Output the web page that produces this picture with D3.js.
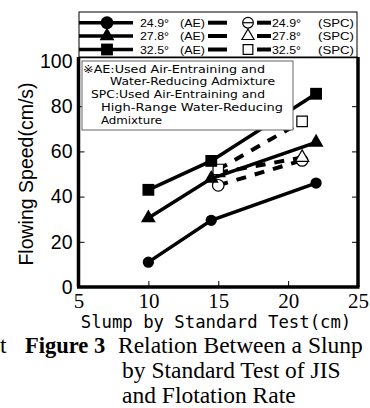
<!DOCTYPE html>
<html><head><meta charset="utf-8">
<script src="https://cdn.jsdelivr.net/npm/d3@7"></script>
<style>body{margin:0;background:#fff}svg{display:block}</style>
</head><body>
<svg id="c" width="370" height="408"></svg>
<script>
// ---- data ----
const xTicks = [5, 10, 15, 20, 25];
const yTicks = [0, 20, 40, 60, 80, 100];
const seriesNames = ["24.9° (AE)", "27.8° (AE)", "32.5° (AE)", "24.9° (SPC)", "27.8° (SPC)", "32.5° (SPC)"];
const ae249x = [10, 14.5, 22];   const ae249y = [11, 29.5, 46];
const ae278x = [10, 14.5, 22];   const ae278y = [30.5, 48, 64];
const ae325x = [10, 14.5, 22];   const ae325y = [43, 55.8, 85.5];
const spc249x = [15, 21];        const spc249y = [45, 56];
const spc278x = [15, 21];        const spc278y = [50.5, 57.3];
const spc325x = [15, 21];        const spc325y = [52, 73.3];
const noteLines = ["※AE:Used Air-Entraining and", "Water-Reducing Admixture", "SPC:Used Air-Entraining and", "High-Range Water-Reducing", "Admixture"];
const captionLines = ["Relation Between a Slunp", "by  Standard Test of JIS", "and Flotation Rate"];

const svg = d3.select("#c");
const x = d3.scaleLinear().domain([5, 25]).range([78.5, 358]);
const y = d3.scaleLinear().domain([0, 100]).range([287, 61]);
const sans = "'Liberation Sans', Arial, sans-serif";
const mono = "'DejaVu Sans Mono', monospace";
const pgoth = "'DejaVu Sans', sans-serif";
const serif = "'Liberation Serif', 'Times New Roman', serif";

// frame top line
svg.append("line").attr("x1", x(5)).attr("x2", x(25)).attr("y1", 57.5).attr("y2", 57.5)
  .attr("stroke", "#000").attr("stroke-width", 1.5);

// axes with inward ticks
const yl = svg.append("g").attr("transform", `translate(${x(5)},0)`)
  .call(d3.axisLeft(y).tickValues(yTicks).tickSize(-6).tickPadding(6).tickFormat(d3.format("d")));
const yr = svg.append("g").attr("transform", `translate(${x(25)},0)`)
  .call(d3.axisRight(y).tickValues(yTicks.slice(1, -1)).tickSize(-6).tickFormat(""));
const xb = svg.append("g").attr("transform", `translate(0,${y(0)})`)
  .call(d3.axisBottom(x).tickValues(xTicks).tickSize(-6).tickPadding(6).tickFormat(d3.format("d")));
[yl, yr, xb].forEach(g => {
  g.select(".domain").attr("stroke", "#000").attr("stroke-width", 3.5);
  g.selectAll(".tick line").attr("stroke", "#000").attr("stroke-width", 1);
});
yl.select(".domain").attr("d", `M0,${y(0)}V57`);
yr.select(".domain").attr("d", `M0,${y(0)}V57`);
xb.select(".domain").attr("d", `M${x(5) - 1.5},0H${x(25) + 1.5}`);
yl.selectAll(".tick line").filter(d => d === 0 || d === 100).remove();
xb.selectAll(".tick line").filter(d => d === 5 || d === 25).remove();
yl.selectAll("text").attr("font-family", sans).attr("font-size", 19.5).attr("fill", "#000");
xb.selectAll("text").attr("font-family", serif).attr("font-size", 21).attr("fill", "#000");

// axis titles
svg.append("text").attr("x", 216).attr("y", 328).attr("text-anchor", "middle")
  .attr("font-family", mono).attr("font-size", 17.3).text("Slump by Standard Test(cm)");
svg.append("text").attr("transform", "translate(33,174) rotate(-90)").attr("text-anchor", "middle")
  .attr("font-family", sans).attr("font-size", 19.5).text("Flowing Speed(cm/s)");

// marker drawing
const symType = {circle: d3.symbolCircle, triangle: d3.symbolTriangle, square: d3.symbolSquare};
function marker(g, cx, cy, type, filled, size) {
  g.append("path").attr("transform", `translate(${cx},${cy})`)
    .attr("d", d3.symbol().type(symType[type]).size(size)())
    .attr("fill", filled ? "#000" : "#fff").attr("stroke", "#000").attr("stroke-width", filled ? 0 : 1.2);
}
const line = d3.line().x(d => x(d[0])).y(d => y(d[1]));
const ae = [[ae249x, ae249y, "circle"], [ae278x, ae278y, "triangle"], [ae325x, ae325y, "square"]];
const spc = [[spc249x, spc249y, "circle"], [spc278x, spc278y, "triangle"], [spc325x, spc325y, "square"]];
const sizes = {circle: 100, triangle: 95, square: 140};
const osizes = {circle: 105, triangle: 75, square: 110};

const plot = svg.append("g");
spc.forEach(([xs, ys]) => {
  plot.append("path").datum(xs.map((v, i) => [v, ys[i]])).attr("d", line)
    .attr("fill", "none").attr("stroke", "#000").attr("stroke-width", 4).attr("stroke-dasharray", "10,9");
});
spc.forEach(([xs, ys, t]) => xs.forEach((v, i) => marker(plot, x(v), y(ys[i]), t, false, osizes[t])));
ae.forEach(([xs, ys]) => {
  plot.append("path").datum(xs.map((v, i) => [v, ys[i]])).attr("d", line)
    .attr("fill", "none").attr("stroke", "#000").attr("stroke-width", 3.5);
});
ae.forEach(([xs, ys, t]) => xs.forEach((v, i) => marker(plot, x(v), y(ys[i]), t, true, sizes[t])));

// note box
const note = svg.append("g");
note.append("rect").attr("x", 82).attr("y", 61).attr("width", 211).attr("height", 69)
  .attr("fill", "#fff").attr("stroke", "#666").attr("stroke-width", 1);
const indents = [83, 110, 91, 101, 101];
const widths = [182, 165, 174, 182, 61];
noteLines.forEach((s, i) => note.append("text").attr("x", indents[i]).attr("y", 72.5 + i * 12.75)
  .attr("font-family", pgoth).attr("font-size", 10.9)
  .attr("textLength", widths[i]).attr("lengthAdjust", "spacingAndGlyphs").text(s));

// legend box
const lg = svg.append("g");
lg.append("rect").attr("x", 79).attr("y", 12).attr("width", 278).attr("height", 45)
  .attr("fill", "#fff").attr("stroke", "#000").attr("stroke-width", 1);
const types = ["circle", "triangle", "square"];
const rowsY = [22.7, 36, 49.5];
const lfs = 11.6;
types.forEach((t, i) => {
  const ry = rowsY[i];
  lg.append("line").attr("x1", 79).attr("x2", 133).attr("y1", ry).attr("y2", ry).attr("stroke", "#000").attr("stroke-width", 3.5);
  marker(lg, 107, ry, t, true, t === "circle" ? 130 : sizes[t]);
  lg.append("text").attr("x", 140).attr("y", ry + 4.3).attr("font-family", sans).attr("font-size", lfs)
    .attr("textLength", 29).attr("lengthAdjust", "spacingAndGlyphs").text(seriesNames[i].split(" ")[0]);
  lg.append("text").attr("x", 180).attr("y", ry + 4.3).attr("font-family", sans).attr("font-size", lfs)
    .attr("textLength", 25).attr("lengthAdjust", "spacingAndGlyphs").text(seriesNames[i].split(" ")[1]);
  lg.append("line").attr("x1", 208).attr("x2", 227).attr("y1", ry).attr("y2", ry).attr("stroke", "#000").attr("stroke-width", 4);
  lg.append("line").attr("x1", 257).attr("x2", 271).attr("y1", ry).attr("y2", ry).attr("stroke", "#000").attr("stroke-width", 4);
  marker(lg, 248, ry, t, false, osizes[t] * 0.85);
  if (t === "circle") lg.append("line").attr("x1", 243).attr("x2", 253).attr("y1", ry).attr("y2", ry).attr("stroke", "#000").attr("stroke-width", 1.2);
  lg.append("text").attr("x", 272).attr("y", ry + 4.3).attr("font-family", sans).attr("font-size", lfs)
    .attr("textLength", 29).attr("lengthAdjust", "spacingAndGlyphs").text(seriesNames[i + 3].split(" ")[0]);
  lg.append("text").attr("x", 318).attr("y", ry + 4.3).attr("font-family", sans).attr("font-size", lfs)
    .attr("textLength", 36).attr("lengthAdjust", "spacingAndGlyphs").text(seriesNames[i + 3].split(" ")[1]);
});

// caption
svg.append("text").attr("x", 0).attr("y", 353).attr("font-family", serif).attr("font-size", 23.5).text("t");
svg.append("text").attr("x", 25).attr("y", 353).attr("font-family", serif).attr("font-size", 22.5)
  .attr("font-weight", "bold").text("Figure 3");
svg.append("text").attr("x", 118).attr("y", 353).attr("font-family", serif).attr("font-size", 23.5).text(captionLines[0]);
svg.append("text").attr("x", 122).attr("y", 378).attr("font-family", serif).attr("font-size", 23.5).text(captionLines[1]);
svg.append("text").attr("x", 122).attr("y", 403).attr("font-family", serif).attr("font-size", 23.5).text(captionLines[2]);
</script>
</body></html>
